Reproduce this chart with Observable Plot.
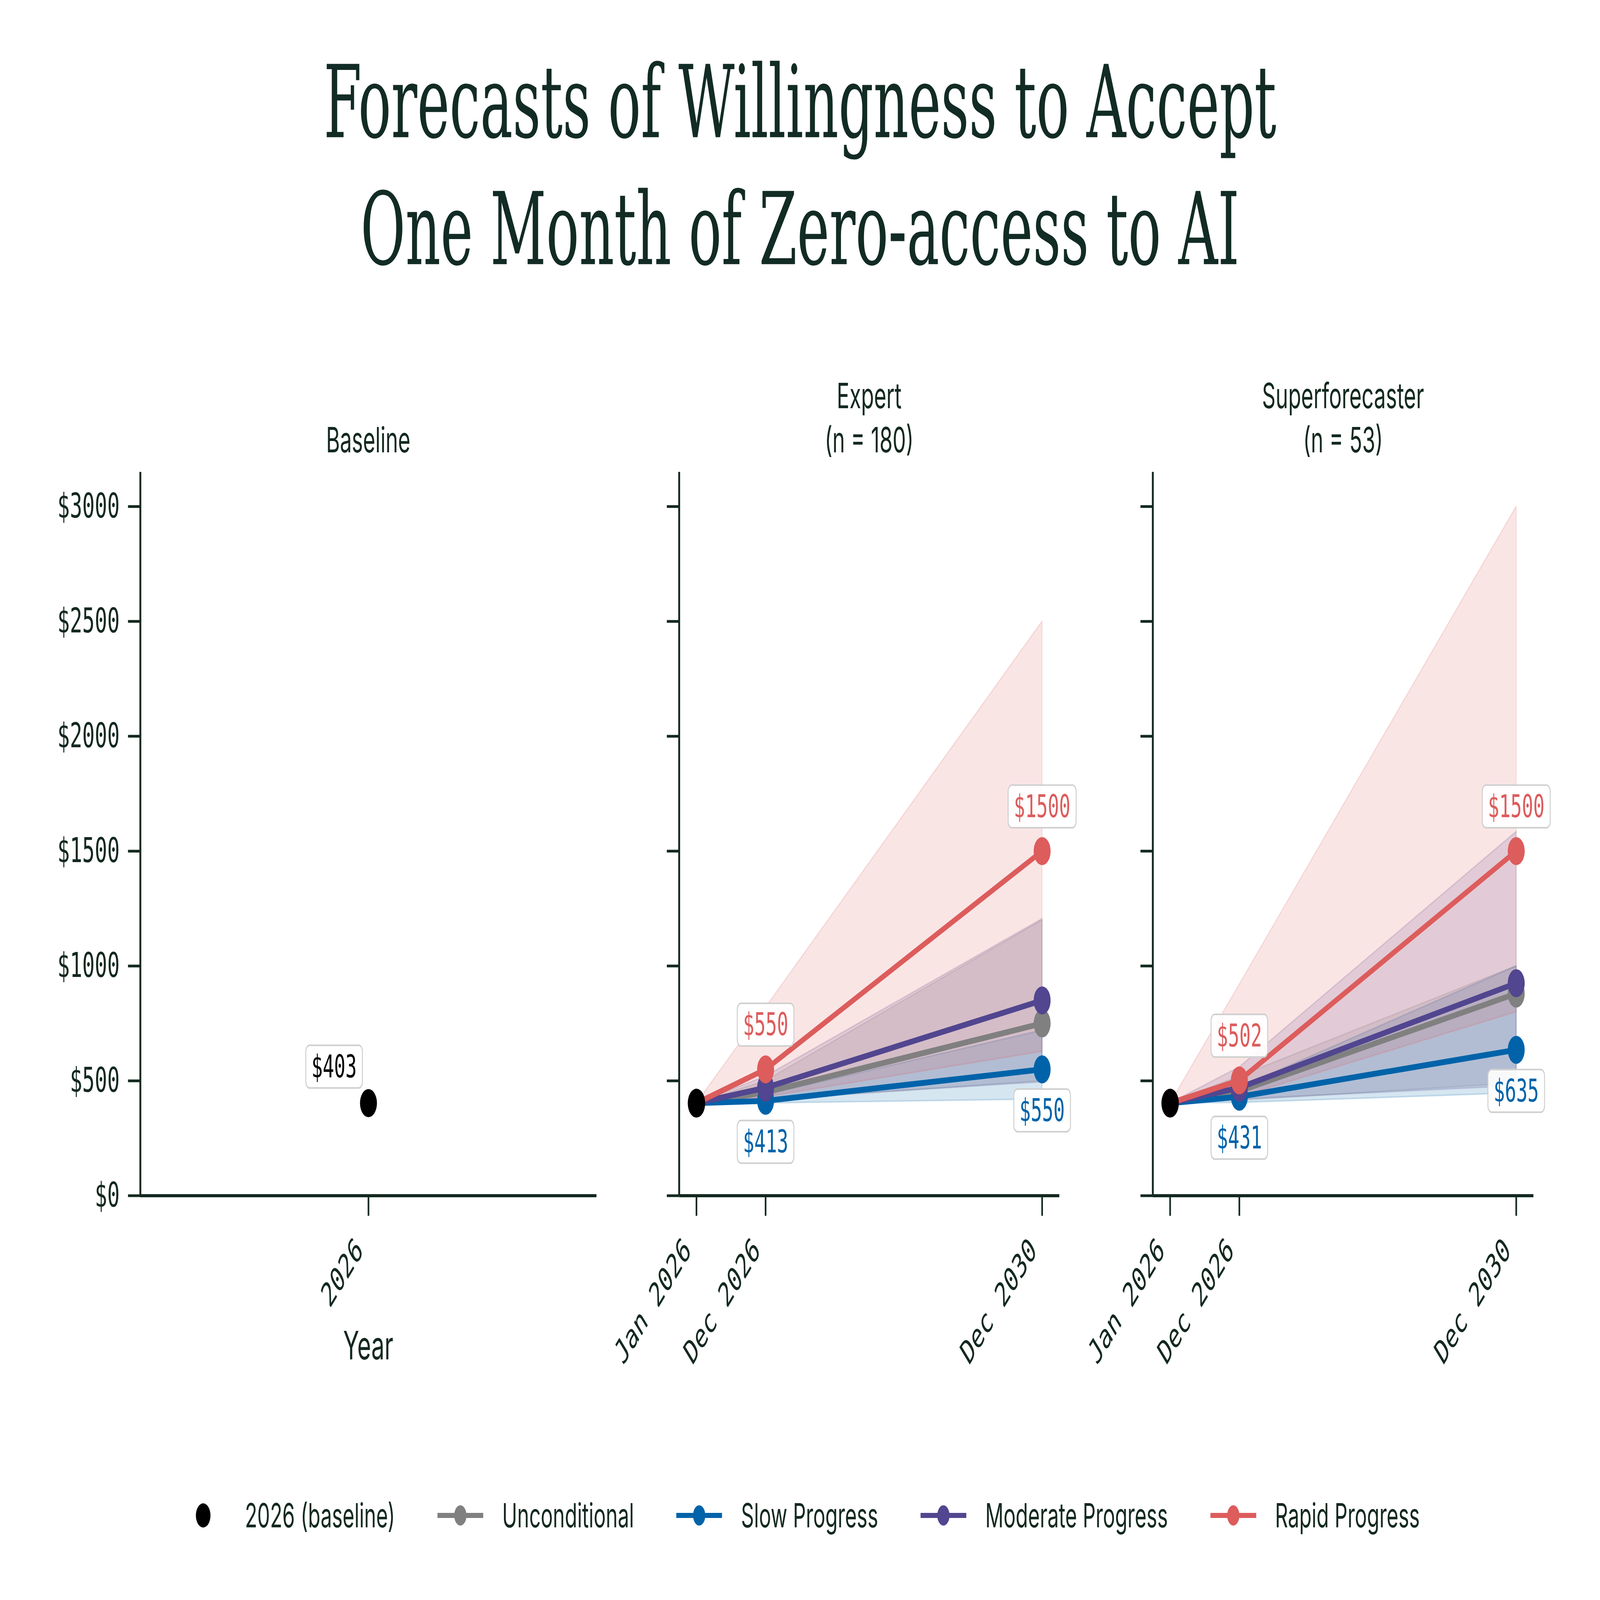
<!DOCTYPE html>
<html><head><meta charset="utf-8">
<script src="https://cdn.jsdelivr.net/npm/d3@7"></script>
<script src="https://cdn.jsdelivr.net/npm/@observablehq/plot@0.6"></script>
<style>
html,body{margin:0;padding:0;background:#fff;overflow:hidden;}
#page{position:relative;width:6800px;height:4106px;background:#fff;overflow:hidden;transform-origin:0 0;}
.abs{position:absolute;}
#title{left:0;width:6800px;top:100px;text-align:center;font-family:"DejaVu Serif Condensed","DejaVu Serif",serif;font-stretch:condensed;font-size:258px;line-height:326px;color:#122b25;}
.ptitle{position:absolute;text-align:center;font-family:Inter,sans-serif;font-size:90px;line-height:113px;color:#13291f;transform:translateX(-50%);white-space:nowrap;}
#xlabel{position:absolute;font-family:Inter,sans-serif;font-size:100px;line-height:100px;color:#13291f;transform:translateX(-50%);}
#legend{position:absolute;left:0;width:6800px;top:3839px;height:100px;display:flex;justify-content:center;align-items:center;gap:180px;font-family:Inter,sans-serif;font-size:86px;color:#13291f;}
.li{display:flex;align-items:center;}
.li span{margin-left:80px;}
</style></head>
<body><div id="page">
<div id="title" class="abs">Forecasts of Willingness to Accept<br>One Month of Zero-access to AI</div>
</div>
<script>
// ---- data ----
const seriesNames = ["Unconditional", "Slow Progress", "Moderate Progress", "Rapid Progress"];
const seriesColors = ["#808080", "#0063a9", "#51468f", "#dd5c5c"];
const timeX = [2026, 2027, 2031];
const timeTickLabels = ["Jan 2026", "Dec 2026", "Dec 2030"];
const baselineYear = 2026;
const baselineValue = 403;
const yTicks = [0, 500, 1000, 1500, 2000, 2500, 3000];
const panelTitles = ["Baseline", "Expert\n(n = 180)", "Superforecaster\n(n = 53)"];

// rows: series (Unconditional, Slow, Moderate, Rapid); columns: Jan 2026, Dec 2026, Dec 2030
const expertMedian = [[403, 450, 750], [403, 413, 550], [403, 470, 850], [403, 550, 1500]];
const expertLow    = [[403, 415, 500], [403, 403, 420], [403, 420, 495], [403, 430, 628]];
const expertHigh   = [[403, 500, 1200], [403, 440, 720], [403, 520, 1205], [403, 820, 2500]];

const superMedian = [[403, 455, 880], [403, 431, 635], [403, 470, 925], [403, 502, 1500]];
const superLow    = [[403, 415, 490], [403, 405, 447], [403, 420, 478], [403, 430, 800]];
const superHigh   = [[403, 520, 1000], [403, 470, 1000], [403, 560, 1585], [403, 920, 3000]];

const labelAbove = 3; // Rapid Progress
const labelBelow = 1; // Slow Progress

// ---- layout ----
const AX_TOP = 1211, AX_BOTTOM = 3068;
const MT = 40, MB = 500;
const ink = "#13291f";
const page = document.getElementById("page");

// fit the 6800x4106 design into whatever window we are given
(function fit() {
  const sx = Math.min(1, window.innerWidth / 6800);
  const sy = Math.min(1, window.innerHeight / 4106);
  if (sx < 1 || sy < 1) page.style.transform = `scale(${sx}, ${sy})`;
})();

function boxLabels(svg) {
  svg.querySelectorAll('g[aria-label="text"] text').forEach(t => {
    const b = t.getBBox();
    const r = document.createElementNS("http://www.w3.org/2000/svg", "rect");
    r.setAttribute("x", b.x - 24);
    r.setAttribute("y", b.y - 8);
    r.setAttribute("width", b.width + 48);
    r.setAttribute("height", b.height + 16);
    r.setAttribute("rx", 16);
    r.setAttribute("fill", "white");
    r.setAttribute("fill-opacity", 0.9);
    r.setAttribute("stroke", "#cfcfcf");
    r.setAttribute("stroke-width", 4);
    const tr = t.getAttribute("transform");
    if (tr) r.setAttribute("transform", tr);
    t.parentNode.insertBefore(r, t);
  });
}

function place(svg, left, ml) {
  svg.style.position = "absolute";
  svg.style.left = (left - ml) + "px";
  svg.style.top = (AX_TOP - MT) + "px";
  svg.style.maxWidth = "none";
  page.appendChild(svg);
  boxLabels(svg);
}

const baseStyle = {fontFamily: "'DejaVu Sans Mono', monospace", fontSize: "86px", color: ink, background: "transparent", overflow: "visible"};

function xAxes(ticks, fmt) {
  return [
    Plot.axisX({ticks, tickSize: 52, strokeWidth: 7, tickFormat: () => "", label: null}),
    Plot.axisX({ticks, tickSize: 0, tickPadding: 80, tickRotate: -45, dx: -38, dy: 45, tickFormat: fmt, label: null})
  ];
}

// Baseline panel
(function () {
  const left = 596, right = 2535, ml = 420, mr = 40;
  const xDom = [baselineYear - 0.5, baselineYear + 0.5];
  const svg = Plot.plot({
    width: ml + (right - left) + mr, height: MT + (AX_BOTTOM - AX_TOP) + MB,
    marginLeft: ml, marginRight: mr, marginTop: MT, marginBottom: MB,
    style: baseStyle,
    x: {domain: xDom},
    y: {domain: [0, 3150]},
    marks: [
      Plot.axisY({ticks: yTicks, tickSize: 52, tickPadding: 36, strokeWidth: 7, fontSize: 88, tickFormat: d => "$" + d, label: null}),
      ...xAxes([baselineYear], d => String(d)),
      Plot.ruleX([xDom[0]], {y1: 0, y2: 3150, stroke: ink, strokeWidth: 8}),
      Plot.ruleY([0], {stroke: ink, strokeWidth: 8}),
      Plot.dot([baselineValue], {x: baselineYear, y: d => d, r: 36, fill: "black"}),
      Plot.text([baselineValue], {x: baselineYear, y: d => d, text: d => "$" + d, dx: -146, dy: -92, fill: "black", fontSize: 80, lineAnchor: "middle"})
    ]
  });
  place(svg, left, ml);
})();

function trendPanel(left, right, median, low, high) {
  const ml = 100, mr = 120;
  const xDom = [2025.75, 2031.25];
  const rows = [];
  seriesNames.forEach((name, s) => timeX.forEach((t, i) => rows.push({name, s, i, t, y: median[s][i], lo: low[s][i], hi: high[s][i]})));
  const marks = [
    Plot.axisY({ticks: yTicks, tickSize: 52, strokeWidth: 7, tickFormat: () => "", label: null}),
    ...xAxes(timeX, d => timeTickLabels[timeX.indexOf(d)]),
    Plot.ruleX([xDom[0]], {y1: 0, y2: 3150, stroke: ink, strokeWidth: 8}),
    Plot.ruleY([0], {stroke: ink, strokeWidth: 8})
  ];
  seriesNames.forEach((name, s) => {
    marks.push(Plot.areaY(rows.filter(d => d.s === s), {x: "t", y1: "lo", y2: "hi", fill: "name", fillOpacity: 0.16, stroke: "name", strokeOpacity: 0.18, strokeWidth: 4}));
  });
  seriesNames.forEach((name, s) => {
    const sr = rows.filter(d => d.s === s);
    marks.push(Plot.line(sr, {x: "t", y: "y", stroke: "name", strokeWidth: 15}));
    marks.push(Plot.dot(sr.filter(d => d.i > 0), {x: "t", y: "y", fill: "name", r: 36}));
  });
  marks.push(Plot.dot([baselineValue], {x: timeX[0], y: d => d, r: 37, fill: "black"}));
  marks.push(Plot.text(rows.filter(d => d.s === labelAbove && d.i > 0), {x: "t", y: "y", text: d => "$" + d.y, dy: -113, fill: "name", fontSize: 80, lineAnchor: "middle"}));
  marks.push(Plot.text(rows.filter(d => d.s === labelBelow && d.i > 0), {x: "t", y: "y", text: d => "$" + d.y, dy: 107, fill: "name", fontSize: 80, lineAnchor: "middle"}));
  const svg = Plot.plot({
    width: ml + (right - left) + mr, height: MT + (AX_BOTTOM - AX_TOP) + MB,
    marginLeft: ml, marginRight: mr, marginTop: MT, marginBottom: MB,
    style: baseStyle,
    x: {domain: xDom},
    y: {domain: [0, 3150]},
    color: {domain: seriesNames, range: seriesColors},
    marks
  });
  place(svg, left, ml);
}

trendPanel(2886, 4502, expertMedian, expertLow, expertHigh);
trendPanel(4899, 6517, superMedian, superLow, superHigh);

// panel titles
[1565, 3694, 5708].forEach((cx, k) => {
  const d = document.createElement("div");
  d.className = "ptitle";
  d.style.left = cx + "px";
  d.style.bottom = (4106 - 1185) + "px";
  d.innerHTML = panelTitles[k].split("\n").join("<br>");
  page.appendChild(d);
});

// x label
const xl = document.createElement("div");
xl.id = "xlabel";
xl.style.left = "1565px";
xl.style.top = "3402px";
xl.textContent = "Year";
page.appendChild(xl);

// legend
const legend = document.createElement("div");
legend.id = "legend";
const items = [{label: "2026 (baseline)", color: "black", line: false}]
  .concat(seriesNames.map((n, i) => ({label: n, color: seriesColors[i], line: true})));
items.forEach(it => {
  const li = document.createElement("div");
  li.className = "li";
  const sw = it.line
    ? `<svg width="195" height="70"><line x1="0" x2="195" y1="35" y2="35" stroke="${it.color}" stroke-width="13"/><circle cx="97.5" cy="35" r="26" fill="${it.color}"/></svg>`
    : `<svg width="195" height="70"><circle cx="97.5" cy="35" r="31" fill="${it.color}"/></svg>`;
  li.innerHTML = sw + `<span>${it.label}</span>`;
  legend.appendChild(li);
});
page.appendChild(legend);
</script>
</body></html>
